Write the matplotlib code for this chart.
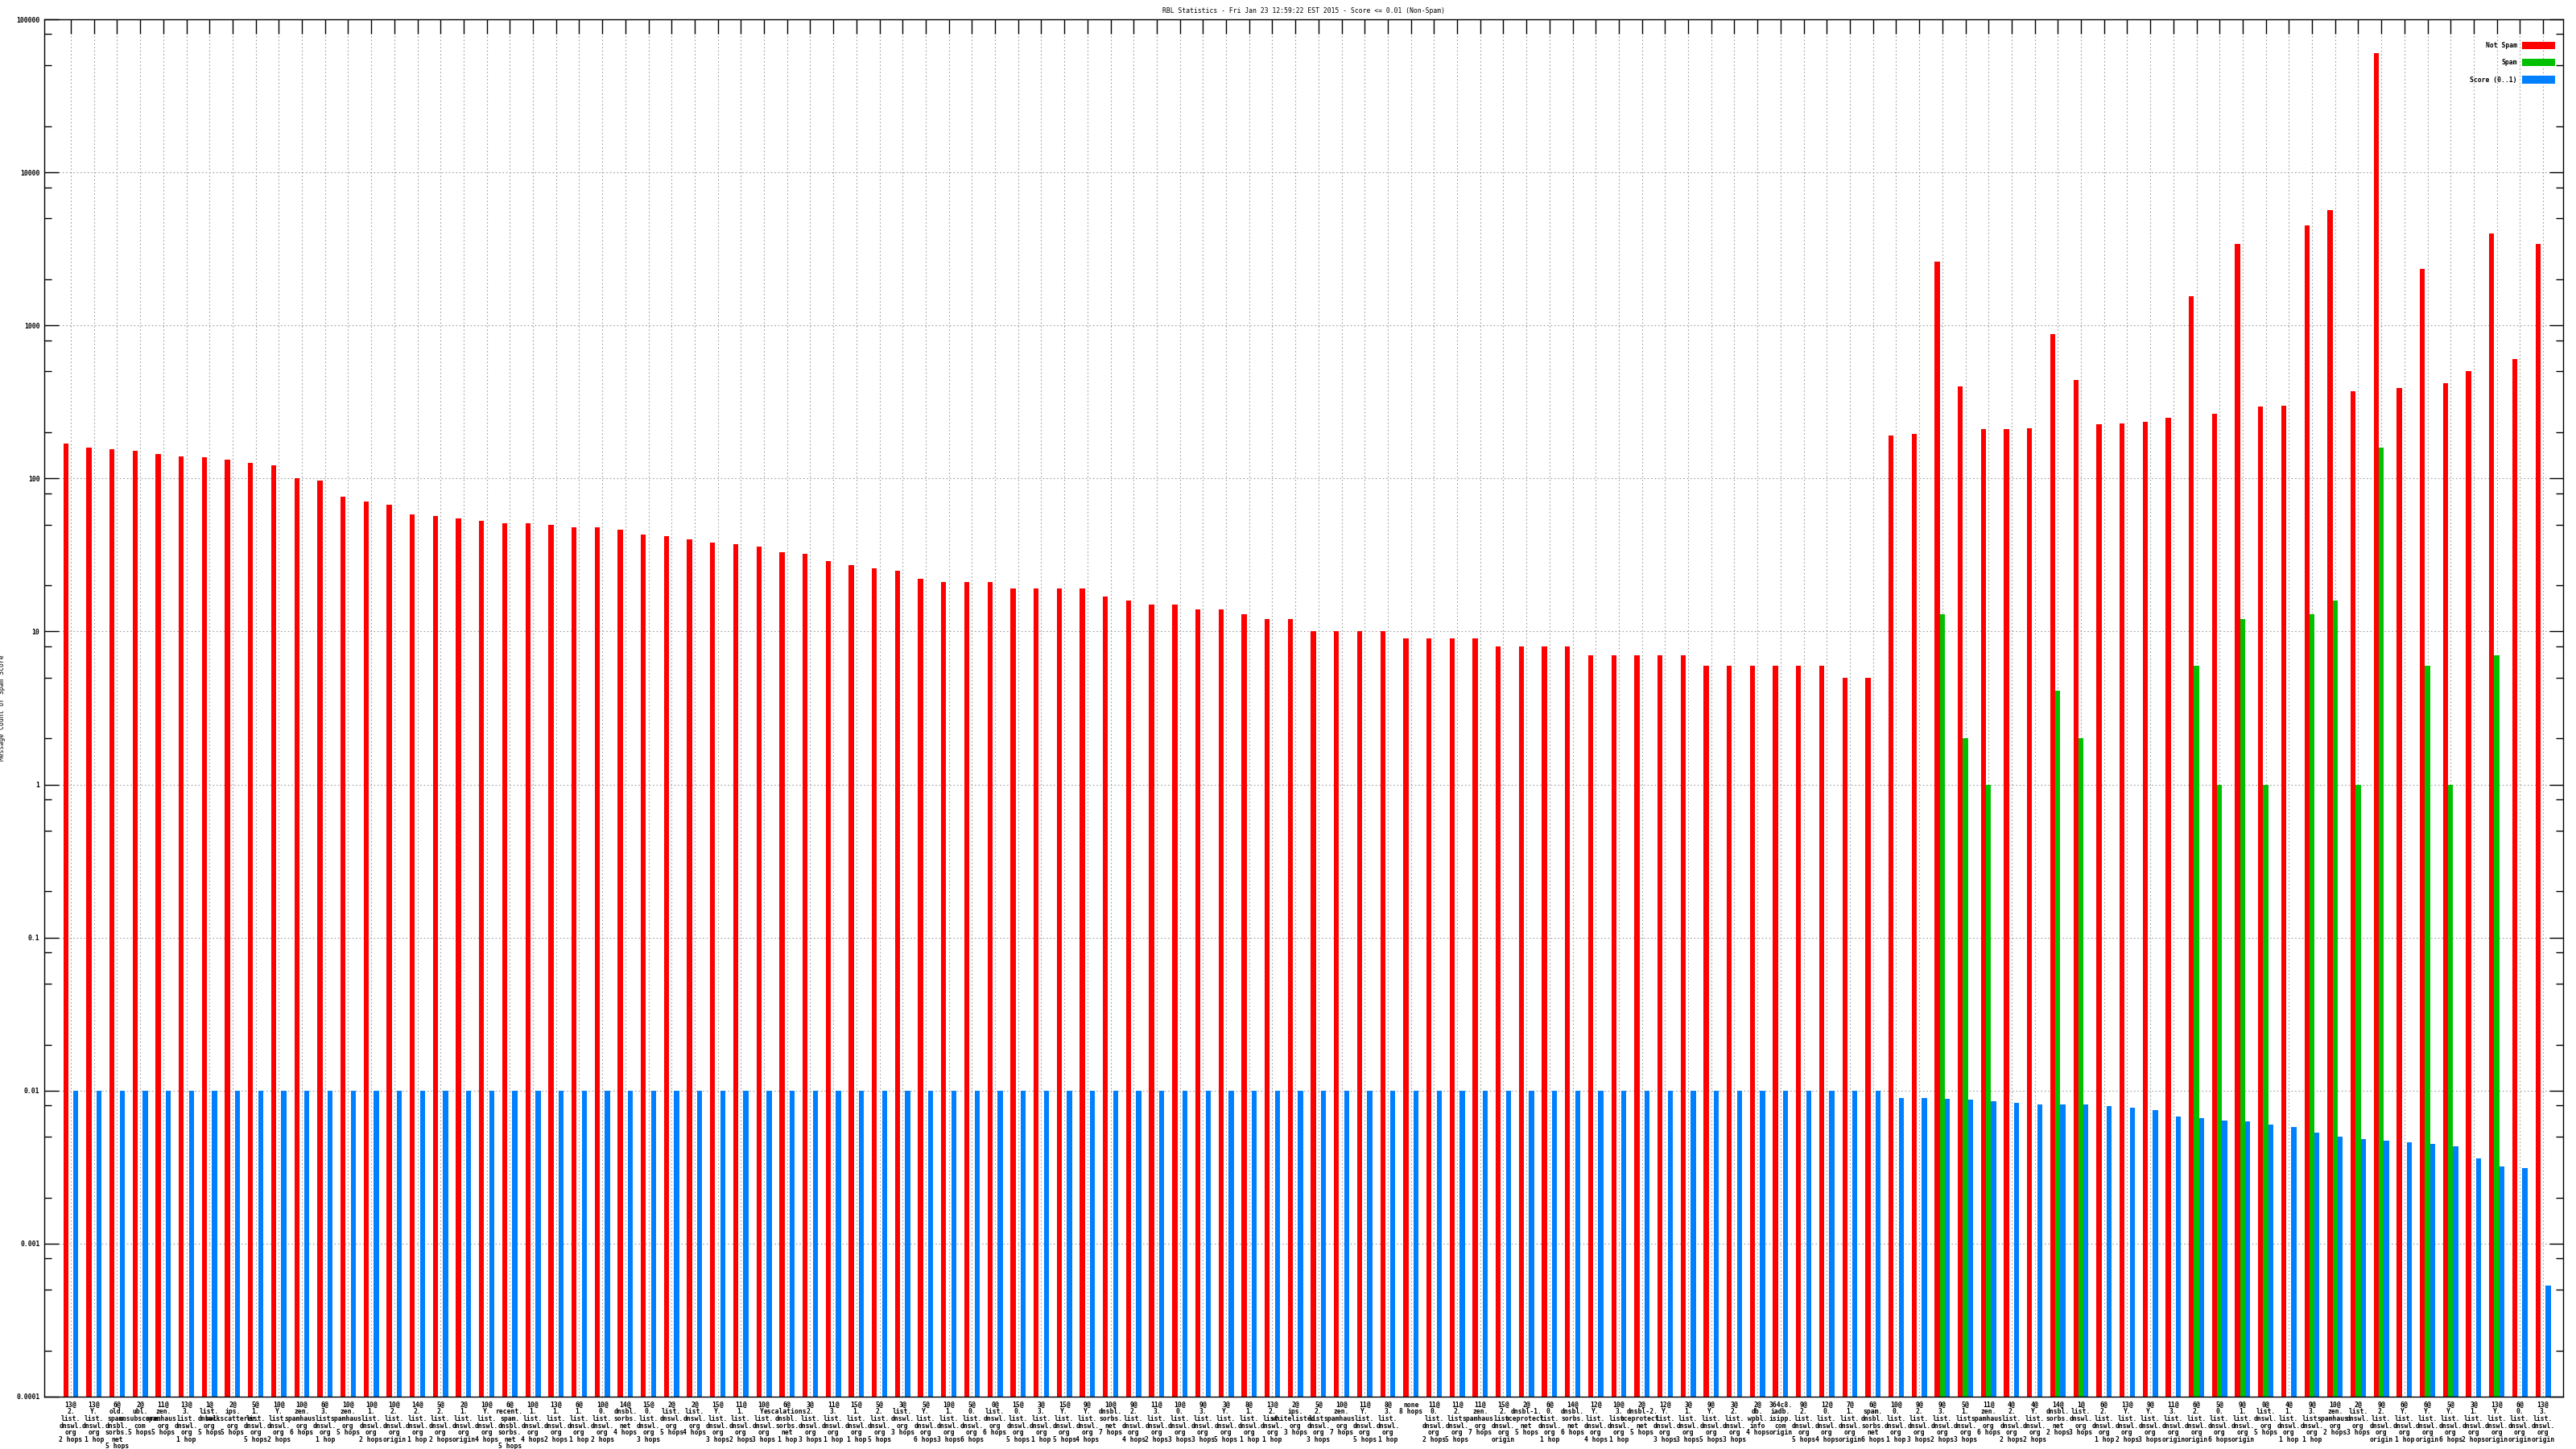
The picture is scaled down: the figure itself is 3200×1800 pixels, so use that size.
import numpy as np
import matplotlib
matplotlib.use("Agg")
import matplotlib.pyplot as plt
from matplotlib.ticker import LogLocator, NullFormatter

# group labels: "<count>@<zone>|<hops>"
labels = [
    "13@2.list.dnswl.org|2 hops", "13@Y.list.dnswl.org|1 hop", "6@old.spam.dnsbl.sorbs.net|5 hops",
    "2@ubl.unsubscore.com|5 hops", "11@zen.spamhaus.org|5 hops", "13@3.list.dnswl.org|1 hop",
    "1@list.dnswl.org|5 hops", "2@ips.backscatterer.org|5 hops", "5@1.list.dnswl.org|5 hops",
    "10@Y.list.dnswl.org|2 hops", "10@zen.spamhaus.org|6 hops", "6@3.list.dnswl.org|1 hop",
    "10@zen.spamhaus.org|5 hops", "10@1.list.dnswl.org|2 hops", "10@2.list.dnswl.org|origin",
    "14@2.list.dnswl.org|1 hop", "5@2.list.dnswl.org|2 hops", "2@1.list.dnswl.org|origin",
    "10@Y.list.dnswl.org|4 hops", "6@recent.spam.dnsbl.sorbs.net|5 hops", "10@1.list.dnswl.org|4 hops",
    "13@1.list.dnswl.org|2 hops", "6@1.list.dnswl.org|1 hop", "10@0.list.dnswl.org|2 hops",
    "14@dnsbl.sorbs.net|4 hops", "15@0.list.dnswl.org|3 hops", "2@list.dnswl.org|5 hops",
    "2@list.dnswl.org|4 hops", "15@Y.list.dnswl.org|3 hops", "11@1.list.dnswl.org|2 hops",
    "10@Y.list.dnswl.org|3 hops", "6@escalations.dnsbl.sorbs.net|1 hop", "3@2.list.dnswl.org|3 hops",
    "11@3.list.dnswl.org|1 hop", "15@1.list.dnswl.org|1 hop", "5@2.list.dnswl.org|5 hops",
    "3@list.dnswl.org|3 hops", "5@Y.list.dnswl.org|6 hops", "10@1.list.dnswl.org|3 hops",
    "5@0.list.dnswl.org|6 hops", "0@list.dnswl.org|6 hops", "15@0.list.dnswl.org|5 hops",
    "3@3.list.dnswl.org|1 hop", "15@Y.list.dnswl.org|5 hops", "9@Y.list.dnswl.org|4 hops",
    "10@dnsbl.sorbs.net|7 hops", "9@2.list.dnswl.org|4 hops", "11@3.list.dnswl.org|2 hops",
    "10@0.list.dnswl.org|3 hops", "9@3.list.dnswl.org|3 hops", "3@Y.list.dnswl.org|5 hops",
    "8@1.list.dnswl.org|1 hop", "13@2.list.dnswl.org|1 hop", "2@ips.whitelisted.org|3 hops",
    "5@2.list.dnswl.org|3 hops", "10@zen.spamhaus.org|7 hops", "11@Y.list.dnswl.org|5 hops",
    "8@3.list.dnswl.org|1 hop", "none|8 hops", "11@0.list.dnswl.org|2 hops",
    "11@2.list.dnswl.org|5 hops", "11@zen.spamhaus.org|7 hops", "15@2.list.dnswl.org|origin",
    "2@dnsbl-1.uceprotect.net|5 hops", "6@0.list.dnswl.org|1 hop", "14@dnsbl.sorbs.net|6 hops",
    "12@Y.list.dnswl.org|4 hops", "10@3.list.dnswl.org|1 hop", "2@dnsbl-2.uceprotect.net|5 hops",
    "12@Y.list.dnswl.org|3 hops", "3@1.list.dnswl.org|3 hops", "9@Y.list.dnswl.org|5 hops",
    "3@2.list.dnswl.org|3 hops", "2@db.wpbl.info|4 hops", "364c8.iadb.isipp.com|origin",
    "9@2.list.dnswl.org|5 hops", "12@0.list.dnswl.org|4 hops", "7@1.list.dnswl.org|origin",
    "6@spam.dnsbl.sorbs.net|6 hops", "10@0.list.dnswl.org|1 hop", "9@2.list.dnswl.org|3 hops",
    "9@3.list.dnswl.org|2 hops", "5@1.list.dnswl.org|3 hops", "11@zen.spamhaus.org|6 hops",
    "4@2.list.dnswl.org|2 hops", "4@Y.list.dnswl.org|2 hops", "14@dnsbl.sorbs.net|2 hops",
    "1@list.dnswl.org|3 hops", "6@2.list.dnswl.org|1 hop", "13@Y.list.dnswl.org|2 hops",
    "9@Y.list.dnswl.org|3 hops", "11@3.list.dnswl.org|origin", "6@2.list.dnswl.org|origin",
    "5@0.list.dnswl.org|6 hops", "9@1.list.dnswl.org|origin", "0@list.dnswl.org|5 hops",
    "4@1.list.dnswl.org|1 hop", "9@3.list.dnswl.org|1 hop", "10@zen.spamhaus.org|2 hops",
    "2@list.dnswl.org|3 hops", "9@2.list.dnswl.org|origin", "6@Y.list.dnswl.org|1 hop",
    "6@Y.list.dnswl.org|origin", "5@Y.list.dnswl.org|6 hops", "3@1.list.dnswl.org|2 hops",
    "13@Y.list.dnswl.org|origin", "6@0.list.dnswl.org|origin", "13@3.list.dnswl.org|origin",
]

not_spam = [
    170, 160, 155, 152, 145, 140, 137, 133, 127, 122,
    100, 97, 76, 71, 67, 58, 57, 55, 53, 51,
    51, 50, 48, 48, 46, 43, 42, 40, 38, 37,
    36, 33, 32, 29, 27, 26, 25, 22, 21, 21,
    21, 19, 19, 19, 19, 17, 16, 15, 15, 14,
    14, 13, 12, 12, 10, 10, 10, 10, 9, 9,
    9, 9, 8, 8, 8, 8, 7, 7, 7, 7,
    7, 6, 6, 6, 6, 6, 6, 5, 5, 190,
    195, 2600, 400, 210, 210, 214, 880, 440, 225, 230,
    235, 250, 1550, 265, 3400, 295, 300, 4500, 5700, 370,
    60000, 390, 2350, 420, 500, 4000, 600, 3400,
]

spam = [0] * 81 + [
    13, 2, 1, 0, 0, 4.1, 2, 0, 0, 0,
    0, 6, 1, 12, 1, 0, 13, 16, 1, 160,
    0, 6, 1, 0, 7, 0, 0,
]

score = [0.01] * 79 + [
    0.0089, 0.0089, 0.0088, 0.0087, 0.0085, 0.0083, 0.0081, 0.0081, 0.0081, 0.0079,
    0.0077, 0.0075, 0.0068, 0.0066, 0.0064, 0.0063, 0.0060, 0.0058, 0.0053, 0.0050,
    0.0048, 0.0047, 0.0046, 0.0045, 0.0043, 0.0036, 0.0032, 0.0031, 0.00053,
]


def wrap(lbl):
    head, hops = lbl.split("|")
    lines = []
    if "@" in head:
        n, head = head.split("@", 1)
        lines.append(n + "@")
    parts = head.split(".")
    lines += [p + "." for p in parts[:-1]] + [parts[-1]]
    lines.append(hops)
    return "\n".join(lines)


FONT = "DejaVu Sans Mono"
FS = 2.9
BASE = 1e-4

plt.rcParams["font.family"] = FONT
plt.rcParams["font.size"] = FS
plt.rcParams["font.weight"] = "bold"

fig = plt.figure(figsize=(16, 9), dpi=200)
ax = fig.add_axes([55 / 3200, 1 - 1735 / 1800, (3184 - 55) / 3200, (1735 - 24) / 1800])

x = np.arange(len(labels))
w = 0.22
ns = np.array(not_spam, float)
sp = np.array(spam, float)
sc = np.array(score, float)

b1 = ax.bar(x - w, ns - BASE, w, bottom=BASE, color="#ff0000", label="Not Spam", linewidth=0)
m = sp > 0
b2 = ax.bar(x[m], sp[m] - BASE, w, bottom=BASE, color="#00c000", label="Spam", linewidth=0)
b3 = ax.bar(x + w, sc - BASE, w, bottom=BASE, color="#0080ff", label="Score (0..1)", linewidth=0)

ax.set_yscale("log")
ax.set_ylim(1e-4, 1e5)
ax.set_xlim(-1.15, 107.87)

decades = [1e-4, 1e-3, 1e-2, 1e-1, 1, 10, 100, 1000, 1e4, 1e5]
dec_labels = ["0.0001", "0.001", "0.01", "0.1", "1", "10", "100", "1000", "10000", "100000"]
ax.set_yticks(decades)
ax.set_yticklabels(dec_labels)
ax.yaxis.set_minor_locator(LogLocator(base=10, subs=[2, 5, 8], numticks=20))
ax.yaxis.set_minor_formatter(NullFormatter())

ax.set_xticks(x)
ax.set_xticklabels([wrap(l) for l in labels], linespacing=0.95, va="top")

ax.tick_params(axis="x", which="both", bottom=False, top=True, labelbottom=True,
               direction="in", length=6.3, width=0.5, pad=2, labelsize=FS)
ax.tick_params(axis="y", which="major", left=True, right=True, direction="in",
               length=6.3, width=0.5, pad=2, labelsize=FS)
ax.tick_params(axis="y", which="minor", left=True, right=True, direction="in",
               length=3.2, width=0.5)

ax.set_axisbelow(True)
ax.grid(True, which="major", axis="both", color="#a0a0a0", linestyle=(0, (1.5, 2.5)), linewidth=0.4)
for s in ax.spines.values():
    s.set_linewidth(0.5)

ax.set_ylabel("Message Count or Spam Score", fontsize=FS)
ax.yaxis.set_label_coords(-0.0153, 0.5)
ax.set_title("RBL Statistics - Fri Jan 23 12:59:22 EST 2015 - Score <= 0.01 (Non-Spam)",
             fontsize=FS, pad=3)

ax.legend(handles=[b1, b2, b3], loc="upper right", bbox_to_anchor=(1, 0.99),
          markerfirst=False, frameon=False,
          fontsize=FS, handlelength=5, handleheight=1.4, labelspacing=1.5,
          borderaxespad=0.3, borderpad=1.0, handletextpad=0.8)

fig.savefig("out.png", dpi=200)
